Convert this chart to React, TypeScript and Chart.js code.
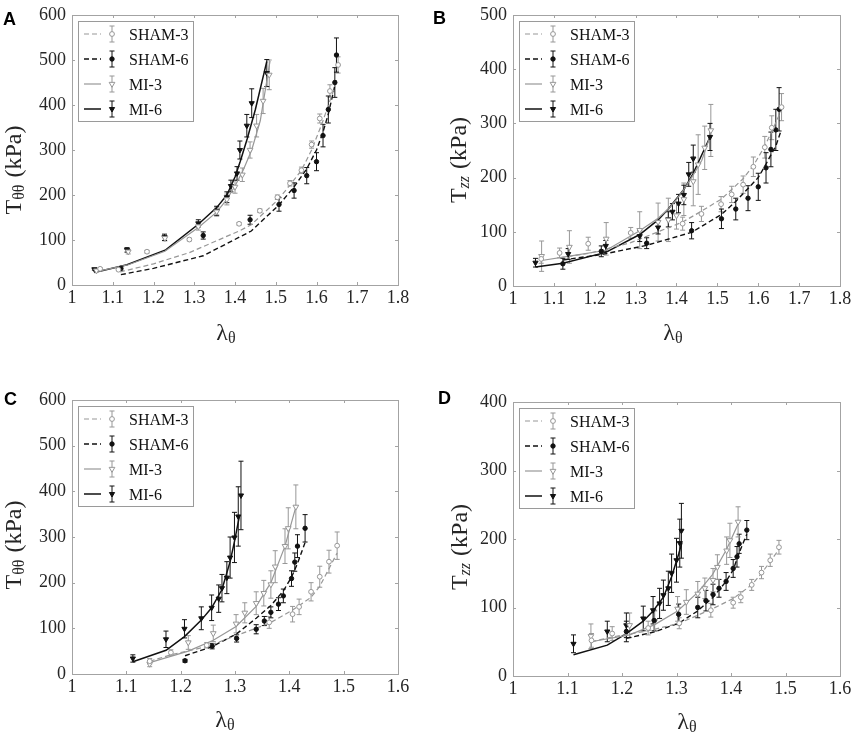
import React, { useEffect, useRef } from "react";
import { Chart, registerables } from "chart.js";

Chart.register(...registerables);

// ---- data ----
const seriesNames = ["SHAM-3", "SHAM-6", "MI-3", "MI-6"];

const xTicksLong = [1, 1.1, 1.2, 1.3, 1.4, 1.5, 1.6, 1.7, 1.8];
const xTicksShort = [1, 1.1, 1.2, 1.3, 1.4, 1.5, 1.6];
const yTicks600 = [0, 100, 200, 300, 400, 500, 600];
const yTicks500 = [0, 100, 200, 300, 400, 500];
const yTicks400 = [0, 100, 200, 300, 400];

// points are [stretch, stress kPa, sd], fits are [stretch, stress kPa]
// A: T_theta-theta, first set
const aSham3 = [[1.069, 36, 2], [1.114, 34, 2], [1.184, 74, 3], [1.288, 101, 3], [1.41, 136, 3], [1.461, 165, 4], [1.504, 195, 5], [1.535, 226, 6], [1.563, 255, 7], [1.588, 312, 8], [1.608, 370, 10], [1.633, 431, 14], [1.653, 489, 18]];
const aSham3Fit = [[1.118, 29], [1.2, 47], [1.288, 72], [1.41, 120], [1.44, 134], [1.504, 188], [1.535, 222], [1.563, 255], [1.588, 300], [1.614, 360], [1.635, 415], [1.648, 448]];
const aSham6 = [[1.12, 37, 4], [1.322, 110, 8], [1.437, 145, 10], [1.508, 179, 15], [1.545, 210, 17], [1.576, 243, 18], [1.6, 274, 20], [1.616, 332, 25], [1.629, 390, 30], [1.645, 450, 33], [1.649, 511, 38]];
const aSham6Fit = [[1.12, 23], [1.2, 37], [1.322, 65], [1.44, 120], [1.508, 178], [1.545, 218], [1.576, 258], [1.6, 300], [1.616, 340], [1.629, 380], [1.648, 455]];
const aMi3 = [[1.06, 32, 2], [1.138, 74, 5], [1.228, 104, 6], [1.31, 130, 8], [1.355, 163, 10], [1.38, 190, 12], [1.4, 218, 14], [1.418, 245, 15], [1.437, 300, 18], [1.453, 354, 25], [1.469, 409, 28], [1.484, 467, 33]];
const aMi3Fit = [[1.057, 29], [1.138, 45], [1.228, 75], [1.31, 128], [1.355, 162], [1.38, 190], [1.4, 220], [1.42, 255], [1.441, 300], [1.462, 365], [1.486, 498]];
const aMi6 = [[1.055, 35, 2], [1.135, 78, 5], [1.227, 106, 7], [1.31, 137, 8], [1.355, 165, 10], [1.38, 195, 12], [1.39, 220, 13], [1.405, 248, 15], [1.412, 300, 20], [1.429, 354, 25], [1.441, 404, 32], [1.478, 471, 30]];
const aMi6Fit = [[1.055, 28], [1.135, 45], [1.23, 78], [1.31, 135], [1.355, 172], [1.38, 200], [1.4, 240], [1.413, 275], [1.43, 325], [1.45, 390], [1.478, 497]];

// B: T_zz, first set
const bSham3 = [[1.069, 50, 8], [1.114, 61, 9], [1.184, 78, 12], [1.288, 98, 10], [1.415, 115, 12], [1.461, 133, 14], [1.509, 151, 14], [1.535, 169, 15], [1.563, 187, 16], [1.588, 220, 18], [1.616, 256, 20], [1.633, 292, 22], [1.657, 330, 25]];
const bSham3Fit = [[1.114, 52], [1.184, 60], [1.288, 80], [1.415, 118], [1.461, 138], [1.509, 160], [1.535, 178], [1.563, 198], [1.588, 222], [1.616, 258], [1.635, 288], [1.655, 322]];
const bSham6 = [[1.122, 41, 10], [1.216, 64, 10], [1.327, 79, 10], [1.437, 102, 15], [1.51, 124, 18], [1.545, 142, 20], [1.575, 162, 23], [1.6, 183, 25], [1.619, 218, 28], [1.631, 252, 32], [1.643, 288, 38], [1.651, 326, 40]];
const bSham6Fit = [[1.122, 48], [1.216, 58], [1.327, 75], [1.437, 99], [1.51, 132], [1.545, 156], [1.575, 180], [1.6, 200], [1.619, 225], [1.631, 242], [1.643, 258], [1.655, 285]];
const bMi3 = [[1.07, 55, 28], [1.138, 72, 30], [1.228, 87, 30], [1.31, 103, 34], [1.355, 118, 35], [1.38, 122, 40], [1.4, 130, 25], [1.418, 160, 30], [1.441, 193, 45], [1.453, 224, 55], [1.469, 255, 40], [1.484, 287, 48]];
const bMi3Fit = [[1.07, 47], [1.138, 55], [1.228, 66], [1.31, 102], [1.355, 125], [1.38, 142], [1.4, 160], [1.418, 178], [1.441, 205], [1.462, 232], [1.484, 280]];
const bMi6 = [[1.055, 43, 8], [1.135, 59, 10], [1.227, 74, 10], [1.31, 92, 10], [1.355, 108, 12], [1.38, 123, 14], [1.39, 137, 15], [1.405, 152, 17], [1.418, 168, 18], [1.43, 206, 22], [1.441, 235, 25], [1.482, 275, 25]];
const bMi6Fit = [[1.055, 35], [1.122, 42], [1.227, 62], [1.31, 95], [1.355, 122], [1.38, 142], [1.418, 178], [1.441, 208], [1.482, 275]];

// C: T_theta-theta, second set
const cSham3 = [[1.143, 28, 6], [1.182, 47, 6], [1.248, 63, 6], [1.363, 113, 13], [1.406, 131, 17], [1.418, 147, 17], [1.44, 180, 20], [1.456, 213, 23], [1.473, 246, 25], [1.488, 281, 30]];
const cSham3Fit = [[1.143, 28], [1.182, 42], [1.248, 60], [1.363, 111], [1.406, 140], [1.44, 168], [1.456, 192], [1.488, 265]];
const cSham6 = [[1.208, 29, 3], [1.258, 61, 6], [1.303, 78, 8], [1.339, 98, 10], [1.354, 116, 10], [1.366, 135, 12], [1.38, 153, 14], [1.389, 171, 15], [1.404, 209, 17], [1.41, 245, 20], [1.415, 280, 25], [1.429, 319, 30]];
const cSham6Fit = [[1.208, 40], [1.258, 60], [1.303, 88], [1.339, 122], [1.366, 150], [1.389, 182], [1.404, 212], [1.415, 242], [1.429, 288]];
const cMi3 = [[1.143, 22, 6], [1.214, 69, 15], [1.26, 89, 18], [1.302, 110, 20], [1.318, 134, 22], [1.339, 155, 25], [1.353, 177, 28], [1.366, 196, 30], [1.374, 235, 35], [1.392, 280, 38], [1.398, 319, 45], [1.412, 366, 48]];
const cMi3Fit = [[1.143, 25], [1.214, 50], [1.26, 74], [1.302, 104], [1.339, 148], [1.366, 200], [1.392, 280], [1.412, 366]];
const cMi6 = [[1.112, 34, 8], [1.173, 76, 18], [1.207, 99, 20], [1.238, 122, 25], [1.257, 145, 28], [1.27, 165, 30], [1.276, 188, 30], [1.285, 211, 35], [1.291, 255, 45], [1.299, 299, 55], [1.306, 345, 65], [1.311, 391, 75]];
const cMi6Fit = [[1.112, 27], [1.173, 52], [1.207, 82], [1.238, 118], [1.257, 145], [1.276, 185], [1.291, 246], [1.299, 290], [1.308, 345]];

// D: T_zz, second set
const dSham3 = [[1.144, 52, 10], [1.182, 62, 10], [1.248, 70, 10], [1.305, 77, 8], [1.363, 96, 10], [1.404, 107, 8], [1.418, 115, 8], [1.438, 133, 8], [1.456, 151, 9], [1.472, 169, 9], [1.488, 188, 10]];
const dSham3Fit = [[1.144, 50], [1.182, 57], [1.248, 66], [1.305, 77], [1.363, 97], [1.404, 113], [1.438, 133], [1.456, 150], [1.472, 167], [1.488, 185]];
const dSham6 = [[1.208, 65, 15], [1.259, 81, 15], [1.304, 90, 15], [1.339, 100, 15], [1.354, 110, 15], [1.367, 119, 15], [1.378, 128, 13], [1.391, 138, 13], [1.404, 157, 13], [1.411, 174, 15], [1.415, 193, 14], [1.429, 213, 14]];
const dSham6Fit = [[1.208, 55], [1.258, 64], [1.304, 77], [1.339, 95], [1.367, 115], [1.391, 138], [1.404, 155], [1.415, 180], [1.429, 207]];
const dMi3 = [[1.143, 58, 18], [1.214, 74, 18], [1.26, 80, 15], [1.302, 98, 18], [1.318, 108, 18], [1.339, 120, 18], [1.352, 128, 15], [1.367, 140, 17], [1.375, 159, 18], [1.392, 183, 20], [1.398, 198, 25], [1.413, 225, 22]];
const dMi3Fit = [[1.143, 50], [1.214, 60], [1.26, 75], [1.302, 95], [1.339, 122], [1.366, 148], [1.392, 185], [1.413, 222]];
const dMi6 = [[1.111, 47, 13], [1.173, 65, 15], [1.208, 74, 18], [1.239, 84, 18], [1.257, 96, 20], [1.269, 106, 22], [1.276, 118, 22], [1.285, 128, 25], [1.291, 150, 28], [1.3, 169, 32], [1.306, 194, 35], [1.309, 212, 40]];
const dMi6Fit = [[1.111, 31], [1.173, 45], [1.208, 62], [1.239, 80], [1.257, 95], [1.276, 115], [1.291, 145], [1.304, 178], [1.31, 195]];

// ---- styling ----
const SERIF = "'Liberation Serif', 'Times New Roman', serif";
const SANS = "'Liberation Sans', Arial, sans-serif";
const GRAY = "#979797";
const BLACK = "#111111";
const AXIS = "#a3a3a3";
const TEXT = "#262626";
const W = 429;
const H = 366;

Chart.defaults.font.family = SERIF;

const seriesStyle = [
  { color: GRAY, dash: [5, 3], width: 1.2, marker: "circle", filled: false, r: 2.4 },
  { color: BLACK, dash: [5, 3], width: 1.4, marker: "circle", filled: true, r: 2.2 },
  { color: GRAY, dash: [], width: 1.2, marker: "triangle", filled: false, r: 3.3 },
  { color: BLACK, dash: [], width: 1.5, marker: "triangle", filled: true, r: 3.0 },
];

const panels = [
  {
    letter: "A", sub: "θθ", italic: false, xMax: 1.8, yMax: 600,
    xTicks: xTicksLong, yTicks: yTicks600,
    points: [aSham3, aSham6, aMi3, aMi6], fits: [aSham3Fit, aSham6Fit, aMi3Fit, aMi6Fit],
    pos: [0, 0], area: [72, 11, 398, 285], yTitle: [13, 170], xTitle: [226, 333], letterAt: [3, 25],
  },
  {
    letter: "B", sub: "zz", italic: true, xMax: 1.8, yMax: 500,
    xTicks: xTicksLong, yTicks: yTicks500,
    points: [bSham3, bSham6, bMi3, bMi6], fits: [bSham3Fit, bSham6Fit, bMi3Fit, bMi6Fit],
    pos: [429, 0], area: [84, 11, 411, 286], yTitle: [29, 160], xTitle: [244, 333], letterAt: [4, 24],
  },
  {
    letter: "C", sub: "θθ", italic: false, xMax: 1.6, yMax: 600,
    xTicks: xTicksShort, yTicks: yTicks600,
    points: [cSham3, cSham6, cMi3, cMi6], fits: [cSham3Fit, cSham6Fit, cMi3Fit, cMi6Fit],
    pos: [0, 366], area: [72, 34, 398, 308], yTitle: [13, 179], xTitle: [225, 354], letterAt: [4, 39],
  },
  {
    letter: "D", sub: "zz", italic: true, xMax: 1.6, yMax: 400,
    xTicks: xTicksShort, yTicks: yTicks400,
    points: [dSham3, dSham6, dMi3, dMi6], fits: [dSham3Fit, dSham6Fit, dMi3Fit, dMi6Fit],
    pos: [429, 366], area: [84, 36, 411, 310], yTitle: [30, 181], xTitle: [258, 356], letterAt: [9, 38],
  },
];

function drawMarker(ctx: CanvasRenderingContext2D, kind: string, x: number, y: number, r: number) {
  ctx.beginPath();
  if (kind === "circle") {
    ctx.arc(x, y, r, 0, Math.PI * 2);
  } else {
    // downward triangle, same geometry as chart.js "triangle" rotated 180
    for (let k = 0; k < 3; k++) {
      const a = Math.PI + (k * 2 * Math.PI) / 3;
      const px = x + Math.sin(a) * r;
      const py = y - Math.cos(a) * r;
      if (k === 0) ctx.moveTo(px, py);
      else ctx.lineTo(px, py);
    }
    ctx.closePath();
  }
}

function decor(cfg: any) {
  return {
    id: "decor" + cfg.letter,
    beforeDatasetsDraw(chart: any) {
      const { ctx, chartArea: a, scales } = chart;
      const xs = scales.x;
      const ys = scales.y;
      ctx.save();
      // box + inward ticks
      ctx.strokeStyle = AXIS;
      ctx.lineWidth = 1;
      ctx.strokeRect(Math.round(a.left) + 0.5, Math.round(a.top) + 0.5, Math.round(a.right - a.left), Math.round(a.bottom - a.top));
      ctx.beginPath();
      cfg.xTicks.forEach((v: number) => {
        const px = Math.round(xs.getPixelForValue(v)) + 0.5;
        ctx.moveTo(px, a.bottom);
        ctx.lineTo(px, a.bottom - 3);
        ctx.moveTo(px, a.top);
        ctx.lineTo(px, a.top + 3);
      });
      cfg.yTicks.forEach((v: number) => {
        const py = Math.round(ys.getPixelForValue(v)) + 0.5;
        ctx.moveTo(a.left, py);
        ctx.lineTo(a.left + 3, py);
        ctx.moveTo(a.right, py);
        ctx.lineTo(a.right - 3, py);
      });
      ctx.stroke();
      // error bars
      chart.data.datasets.forEach((ds: any) => {
        if (!ds.errs) return;
        ctx.strokeStyle = ds.barColor;
        ctx.lineWidth = 1;
        ctx.beginPath();
        ds.data.forEach((p: any, j: number) => {
          const e = ds.errs[j];
          const px = xs.getPixelForValue(p.x);
          const t = ys.getPixelForValue(p.y + e);
          const b = ys.getPixelForValue(p.y - e);
          ctx.moveTo(px, t);
          ctx.lineTo(px, b);
          ctx.moveTo(px - 2.5, t);
          ctx.lineTo(px + 2.5, t);
          ctx.moveTo(px - 2.5, b);
          ctx.lineTo(px + 2.5, b);
        });
        ctx.stroke();
      });
      ctx.restore();
    },
    afterDatasetsDraw(chart: any) {
      const { ctx, chartArea: a } = chart;
      const x0 = Math.round(a.left) + 6;
      const y0 = Math.round(a.top) + 6;
      ctx.save();
      ctx.fillStyle = "#fff";
      ctx.fillRect(x0, y0, 115, 100);
      ctx.strokeStyle = "#9a9a9a";
      ctx.lineWidth = 1;
      ctx.strokeRect(x0 + 0.5, y0 + 0.5, 115, 100);
      seriesNames.forEach((name, i) => {
        const st = seriesStyle[i];
        const y = y0 + 13 + i * 25;
        ctx.strokeStyle = st.color;
        ctx.lineWidth = st.width;
        ctx.setLineDash(st.dash);
        ctx.beginPath();
        ctx.moveTo(x0 + 6, y);
        ctx.lineTo(x0 + 23, y);
        ctx.stroke();
        ctx.setLineDash([]);
        ctx.lineWidth = 1;
        const mx = x0 + 34;
        ctx.beginPath();
        ctx.moveTo(mx, y - 8);
        ctx.lineTo(mx, y + 8);
        ctx.moveTo(mx - 2.5, y - 8);
        ctx.lineTo(mx + 2.5, y - 8);
        ctx.moveTo(mx - 2.5, y + 8);
        ctx.lineTo(mx + 2.5, y + 8);
        ctx.stroke();
        drawMarker(ctx, st.marker, mx, y, st.r);
        ctx.fillStyle = st.filled ? st.color : "#fff";
        ctx.fill();
        ctx.stroke();
        ctx.fillStyle = "#111";
        ctx.font = `16px ${SERIF}`;
        ctx.textAlign = "left";
        ctx.textBaseline = "alphabetic";
        ctx.fillText(name, x0 + 51, y + 6);
      });
      ctx.restore();
    },
    afterDraw(chart: any) {
      const { ctx } = chart;
      const dpr = chart.currentDevicePixelRatio || 1;
      ctx.save();
      ctx.fillStyle = TEXT;
      ctx.textBaseline = "alphabetic";
      ctx.textAlign = "left";
      // y title: T with subscript, rotated
      const big = `24px ${SERIF}`;
      const small = `${cfg.italic ? "italic " : ""}16px ${SERIF}`;
      ctx.font = big;
      const wT = ctx.measureText("T").width;
      const wR = ctx.measureText(" (kPa)").width;
      ctx.font = small;
      const wS = ctx.measureText(cfg.sub).width + 1;
      const total = wT + wS + wR;
      ctx.translate(cfg.yTitle[0], cfg.yTitle[1]);
      ctx.rotate(-Math.PI / 2);
      let sx = -total / 2;
      ctx.font = big;
      ctx.fillText("T", sx, 8);
      sx += wT;
      ctx.font = small;
      ctx.fillText(cfg.sub, sx, 11);
      sx += wS;
      ctx.font = big;
      ctx.fillText(" (kPa)", sx, 8);
      ctx.restore();

      ctx.save();
      ctx.setTransform(dpr, 0, 0, dpr, 0, 0);
      ctx.fillStyle = TEXT;
      ctx.textAlign = "left";
      ctx.textBaseline = "alphabetic";
      // x title: lambda with theta subscript
      ctx.font = big;
      const wL = ctx.measureText("λ").width;
      ctx.font = `16px ${SERIF}`;
      const wTh = ctx.measureText("θ").width;
      const lx = cfg.xTitle[0] - (wL + wTh) / 2;
      ctx.font = big;
      ctx.fillText("λ", lx, cfg.xTitle[1] + 7);
      ctx.font = `16px ${SERIF}`;
      ctx.fillText("θ", lx + wL, cfg.xTitle[1] + 10);
      // panel letter
      ctx.fillStyle = "#000";
      ctx.font = `bold 18px ${SANS}`;
      ctx.fillText(cfg.letter, cfg.letterAt[0], cfg.letterAt[1]);
      ctx.restore();
    },
  };
}

const fmt = (v: any) => String(+Number(v).toFixed(2));

function Panel({ cfg }: { cfg: any }) {
  const ref = useRef<HTMLCanvasElement>(null);

  useEffect(() => {
    if (!ref.current) return;
    const [l, t, r, b] = cfg.area;
    const datasets: any[] = [];
    cfg.fits.forEach((fit: number[][], i: number) => {
      const st = seriesStyle[i];
      datasets.push({
        label: seriesNames[i] + " fit",
        data: fit.map((p) => ({ x: p[0], y: p[1] })),
        showLine: true,
        borderColor: st.color,
        borderWidth: st.width,
        borderDash: st.dash,
        pointRadius: 0,
        fill: false,
        order: 2,
      });
    });
    cfg.points.forEach((pts: number[][], i: number) => {
      const st = seriesStyle[i];
      datasets.push({
        label: seriesNames[i],
        data: pts.map((p) => ({ x: p[0], y: p[1] })),
        errs: pts.map((p) => p[2]),
        barColor: st.color,
        showLine: false,
        pointStyle: st.marker,
        rotation: st.marker === "triangle" ? 180 : 0,
        pointRadius: st.r,
        pointBorderWidth: 1,
        pointBorderColor: st.color,
        pointBackgroundColor: st.filled ? st.color : "#ffffff",
        order: 1,
      });
    });

    const tickFont = { family: SERIF, size: 18, lineHeight: 1 };
    const chart = new Chart(ref.current, {
      type: "scatter",
      data: { datasets },
      options: {
        animation: false,
        responsive: false,
        events: [],
        font: { family: SERIF },
        layout: { padding: { top: t, right: W - r, left: 0, bottom: 0 } },
        plugins: { legend: { display: false }, tooltip: { enabled: false } },
        scales: {
          x: {
            type: "linear",
            min: 1,
            max: cfg.xMax,
            grid: { display: false, drawTicks: false },
            border: { display: false },
            afterBuildTicks: (s: any) => {
              s.ticks = cfg.xTicks.map((v: number) => ({ value: v }));
            },
            afterFit: (s: any) => {
              s.height = H - b;
            },
            ticks: {
              autoSkip: false,
              maxRotation: 0,
              padding: 4,
              color: TEXT,
              font: tickFont,
              callback: fmt,
            },
          },
          y: {
            type: "linear",
            min: 0,
            max: cfg.yMax,
            grid: { display: false, drawTicks: false },
            border: { display: false },
            afterBuildTicks: (s: any) => {
              s.ticks = cfg.yTicks.map((v: number) => ({ value: v }));
            },
            afterFit: (s: any) => {
              s.width = l;
            },
            ticks: {
              autoSkip: false,
              padding: 6,
              color: TEXT,
              font: tickFont,
              callback: fmt,
            },
          },
        },
      } as any,
      plugins: [decor(cfg)],
    });

    return () => {
      chart.destroy();
    };
  }, [cfg]);

  return (
    <canvas
      ref={ref}
      width={W}
      height={H}
      style={{ position: "absolute", left: cfg.pos[0], top: cfg.pos[1], width: W, height: H }}
    />
  );
}

export default function App() {
  return (
    <div style={{ position: "absolute", left: 0, top: 0, width: 858, height: 732, background: "#fff" }}>
      {panels.map((p) => (
        <Panel key={p.letter} cfg={p} />
      ))}
    </div>
  );
}
